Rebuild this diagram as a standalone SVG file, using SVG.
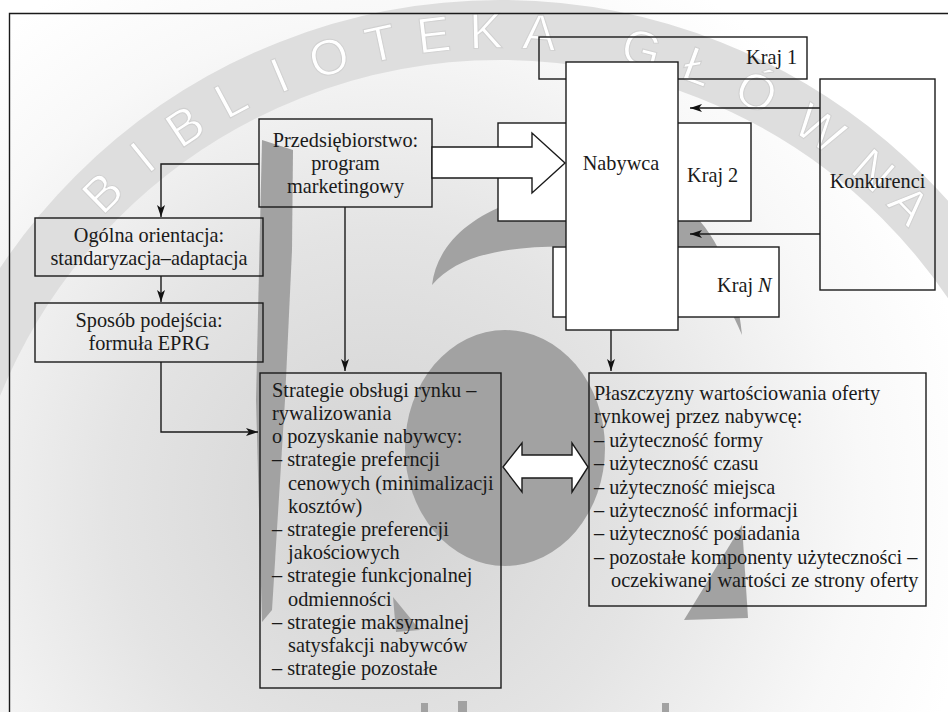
<svg xmlns="http://www.w3.org/2000/svg" width="948" height="712" viewBox="0 0 948 712">
<defs>
<radialGradient id="bgGrad" gradientUnits="userSpaceOnUse" cx="380" cy="500" r="600">
<stop offset="0" stop-color="#d2d2d2"/>
<stop offset="0.45" stop-color="#e4e4e4"/>
<stop offset="0.8" stop-color="#f8f8f8"/>
<stop offset="1" stop-color="#ffffff"/>
</radialGradient>
<marker id="ah" markerUnits="userSpaceOnUse" markerWidth="13" markerHeight="9" refX="12" refY="4" orient="auto">
<path d="M0,0 L12,4 L0,8 L3,4 z" fill="#111"/>
</marker>
</defs>
<style>
.box{fill:none;stroke:#1a1a1a;stroke-width:1.4}
.wbox{fill:#ffffff;stroke:#1a1a1a;stroke-width:1.4}
.t{font-family:"Liberation Serif","Times New Roman",serif;font-size:20.3px;fill:#1a1a1a}
.c{text-anchor:middle}
.ln{fill:none;stroke:#1a1a1a;stroke-width:1.4}
.hol{fill:#ffffff;stroke:#1a1a1a;stroke-width:1.4;stroke-linejoin:miter}
.wm{fill:#a2a2a2}
.wt{font-family:"Liberation Sans",Arial,sans-serif;font-size:50px;fill:#ffffff;stroke:#d0d0d0;stroke-width:1;text-anchor:middle}
</style>
<g id="watermark">
<rect x="0" y="0" width="948" height="712" fill="url(#bgGrad)"/>
<circle cx="500" cy="600" r="570" fill="none" stroke="#dedede" stroke-width="60"/>
<text class="wt" transform="translate(114.5,204.9) rotate(-44.3)">B</text>
<text class="wt" transform="translate(153.3,170.4) rotate(-38.9)">I</text>
<text class="wt" transform="translate(194.5,140.2) rotate(-33.6)">B</text>
<text class="wt" transform="translate(239.1,113.5) rotate(-28.2)">L</text>
<text class="wt" transform="translate(286.1,91.1) rotate(-22.8)">I</text>
<text class="wt" transform="translate(334,73.6) rotate(-17.5)">O</text>
<text class="wt" transform="translate(384.3,60.3) rotate(-12.1)">T</text>
<text class="wt" transform="translate(435.6,51.7) rotate(-6.7)">E</text>
<text class="wt" transform="translate(486.5,48.2) rotate(-1.4)">K</text>
<text class="wt" transform="translate(538.5,49.3) rotate(4)">A</text>
<text class="wt" transform="translate(637.3,65.3) rotate(14.4)">G</text>
<text class="wt" transform="translate(692.4,82.6) rotate(20.4)">Ł</text>
<text class="wt" transform="translate(748.9,107.3) rotate(26.8)">Ó</text>
<text class="wt" transform="translate(810,143) rotate(34)">W</text>
<text class="wt" transform="translate(862.2,183.4) rotate(41)">N</text>
<text class="wt" transform="translate(897,216.5) rotate(46)">A</text>
<polygon class="wm" points="262,140 293,150 292,250 285,400 272,610 262,622 256,400"/>
<ellipse class="wm" cx="505" cy="448" rx="100" ry="118"/>
<path class="wm" d="M 432,285 C 440,220 520,186 620,185 C 700,185 735,260 742,335 C 722,285 690,255 640,250 C 560,244 470,240 432,285 Z"/>
<polygon class="wm" points="742,525 684,620 748,618"/>
<polygon class="wm" points="393,597 420,630 396,632"/>
<rect class="wm" x="421" y="703" width="7" height="9"/>
<rect class="wm" x="458" y="701" width="9" height="11"/>
<rect class="wm" x="662" y="703" width="7" height="9"/>
</g>
<path d="M 9.5,712 V 13.5 H 948" fill="none" stroke="#1a1a1a" stroke-width="1.4"/>
<g id="kraj1"><rect class="box" x="539" y="37" width="268" height="42"/><text class="t" x="746" y="64">Kraj 1</text></g>
<g id="kraj2"><rect class="wbox" x="498" y="123" width="253" height="98"/><text class="t" x="687" y="182">Kraj 2</text></g>
<g id="krajN"><rect class="wbox" x="553" y="247" width="226" height="70"/><text class="t" x="717" y="292">Kraj <tspan font-style="italic">N</tspan></text></g>
<g id="nabywca"><rect class="wbox" x="566" y="62" width="112" height="268"/><text class="t c" x="621" y="170">Nabywca</text></g>
<g id="konkurenci"><rect class="box" x="820" y="79" width="115" height="211"/><text class="t c" x="877.5" y="188">Konkurenci</text></g>
<g id="przedsiebiorstwo"><rect class="box" x="259" y="119" width="173" height="88"/>
<text class="t c" x="345.5" y="147">Przedsiębiorstwo:</text>
<text class="t c" x="345.5" y="170">program</text>
<text class="t c" x="345.5" y="193">marketingowy</text></g>
<g id="ogolna"><rect class="box" x="35" y="218" width="228" height="58"/>
<text class="t c" x="149" y="242">Ogólna orientacja:</text>
<text class="t c" x="149" y="265">standaryzacja–adaptacja</text></g>
<g id="sposob"><rect class="box" x="35" y="303" width="228" height="59"/>
<text class="t c" x="149" y="327">Sposób podejścia:</text>
<text class="t c" x="149" y="350">formuła EPRG</text></g>
<g id="strategie"><rect class="box" x="260" y="373" width="241" height="315"/>
<text class="t" x="272" y="397">Strategie obsługi rynku –</text>
<text class="t" x="272" y="420">rywalizowania</text>
<text class="t" x="272" y="443">o pozyskanie nabywcy:</text>
<text class="t" x="272" y="466">– strategie preferncji</text>
<text class="t" x="288" y="490">cenowych (minimalizacji</text>
<text class="t" x="288" y="513">kosztów)</text>
<text class="t" x="272" y="536">– strategie preferencji</text>
<text class="t" x="288" y="559">jakościowych</text>
<text class="t" x="272" y="582">– strategie funkcjonalnej</text>
<text class="t" x="288" y="606">odmienności</text>
<text class="t" x="272" y="629">– strategie maksymalnej</text>
<text class="t" x="288" y="652">satysfakcji nabywców</text>
<text class="t" x="272" y="675">– strategie pozostałe</text></g>
<g id="plaszczyzny"><rect class="box" x="589" y="373" width="337" height="233"/>
<text class="t" x="594" y="400">Płaszczyzny wartościowania oferty</text>
<text class="t" x="594" y="423">rynkowej przez nabywcę:</text>
<text class="t" x="594" y="447">– użyteczność formy</text>
<text class="t" x="594" y="470">– użyteczność czasu</text>
<text class="t" x="594" y="494">– użyteczność miejsca</text>
<text class="t" x="594" y="517">– użyteczność informacji</text>
<text class="t" x="594" y="540">– użyteczność posiadania</text>
<text class="t" x="594" y="564">– pozostałe komponenty użyteczności –</text>
<text class="t" x="611" y="587">oczekiwanej wartości ze strony oferty</text></g>
<g id="connectors">
<polyline class="ln" points="259,164 161,164 161,217" marker-end="url(#ah)"/>
<line class="ln" x1="161" y1="276" x2="161" y2="302" marker-end="url(#ah)"/>
<polyline class="ln" points="161,362 161,432 258,432" marker-end="url(#ah)"/>
<line class="ln" x1="345" y1="207" x2="345" y2="371" marker-end="url(#ah)"/>
<line class="ln" x1="820" y1="108" x2="690" y2="108" marker-end="url(#ah)"/>
<line class="ln" x1="820" y1="234" x2="690" y2="234" marker-end="url(#ah)"/>
<line class="ln" x1="611" y1="330" x2="611" y2="371" marker-end="url(#ah)"/>
<polygon class="hol" points="432,147 532,147 532,133 565,163 532,193 532,178 432,178"/>
<polygon class="hol" points="503,467 522,443 522,455 572,455 572,443 588,467 572,492 572,478 522,478 522,492"/>
</g>
</svg>
